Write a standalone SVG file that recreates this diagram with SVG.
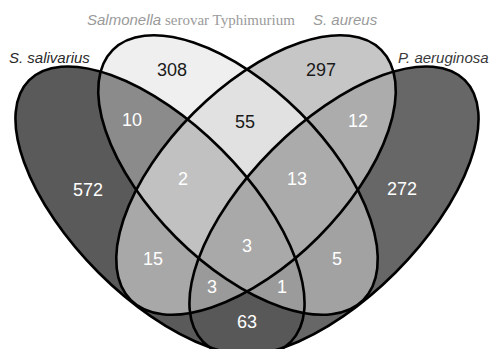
<svg xmlns="http://www.w3.org/2000/svg" xmlns:xlink="http://www.w3.org/1999/xlink" width="491" height="349" viewBox="0 0 491 349">
<style>
.outline{fill:none;stroke:#000;stroke-width:2.6}
.num{font-family:"Liberation Sans",Arial,sans-serif;font-size:18px;text-anchor:middle;fill:#fff}
.numd{fill:#1a1a1a}
.lab{font-family:"Liberation Sans",Arial,sans-serif;font-size:15px;font-style:italic}
.serif{font-family:"Liberation Serif","Times New Roman",serif;font-style:normal}
</style>
<defs>
<ellipse id="eA" cx="160" cy="211" rx="185" ry="87" transform="rotate(45 160 211)"/>
<ellipse id="eB" cx="238" cy="175" rx="177" ry="88" transform="rotate(45 238 175)"/>
<ellipse id="eC" cx="256" cy="175" rx="177" ry="88" transform="rotate(-45 256 175)"/>
<ellipse id="eD" cx="334" cy="211" rx="185" ry="87" transform="rotate(-45 334 211)"/>
<clipPath id="cA"><use href="#eA"/></clipPath>
<clipPath id="cB"><use href="#eB"/></clipPath>
<clipPath id="cC"><use href="#eC"/></clipPath>
<clipPath id="cD"><use href="#eD"/></clipPath>
</defs>
<rect width="491" height="349" fill="#fff"/>
<g id="fills">
<use href="#eA" fill="#5a5a5a"/>
<use href="#eD" fill="#676767"/>
<use href="#eB" fill="#efefef"/>
<use href="#eC" fill="#c6c6c6"/>
<g clip-path="url(#cA)"><use href="#eB" fill="#8b8b8b"/><use href="#eC" fill="#a8a8a8"/><use href="#eD" fill="#585858"/></g>
<g clip-path="url(#cB)"><use href="#eC" fill="#e1e1e1"/><use href="#eD" fill="#a2a2a2"/></g>
<g clip-path="url(#cC)"><use href="#eD" fill="#acacac"/></g>
<g clip-path="url(#cA)"><g clip-path="url(#cB)"><use href="#eC" fill="#c1c1c1"/><use href="#eD" fill="#9b9b9b"/></g></g>
<g clip-path="url(#cA)"><g clip-path="url(#cC)"><use href="#eD" fill="#9a9a9a"/></g></g>
<g clip-path="url(#cB)"><g clip-path="url(#cC)"><use href="#eD" fill="#ababab"/></g></g>
<g clip-path="url(#cA)"><g clip-path="url(#cB)"><g clip-path="url(#cC)"><use href="#eD" fill="#a9a9a9"/></g></g></g>
</g>
<g id="connectors"></g>
<g id="set-salivarius">
<use href="#eA" class="outline"/>
<text class="lab" x="9" y="63" fill="#2a2a2a">S. salivarius</text>
</g>
<g id="set-salmonella">
<use href="#eB" class="outline"/>
<text class="lab" x="87" y="25" fill="#9a9a9a">Salmonella<tspan class="serif"> serovar Typhimurium</tspan></text>
</g>
<g id="set-aureus">
<use href="#eC" class="outline"/>
<text class="lab" x="313" y="25" fill="#9a9a9a">S. aureus</text>
</g>
<g id="set-aeruginosa">
<use href="#eD" class="outline"/>
<text class="lab" x="398" y="63" fill="#3a3a3a">P. aeruginosa</text>
</g>
<g id="counts">
<text class="num numd" x="172" y="76">308</text>
<text class="num numd" x="321" y="76">297</text>
<text class="num numd" x="245" y="128">55</text>
<text class="num" x="132" y="126">10</text>
<text class="num" x="358" y="127">12</text>
<text class="num" x="88" y="196">572</text>
<text class="num" x="402" y="195">272</text>
<text class="num" x="183" y="185">2</text>
<text class="num" x="297" y="185">13</text>
<text class="num" x="153" y="265">15</text>
<text class="num" x="337" y="265">5</text>
<text class="num" x="247" y="252">3</text>
<text class="num" x="212" y="293">3</text>
<text class="num" x="282" y="293">1</text>
<text class="num" x="247" y="328">63</text>
</g>
</svg>
